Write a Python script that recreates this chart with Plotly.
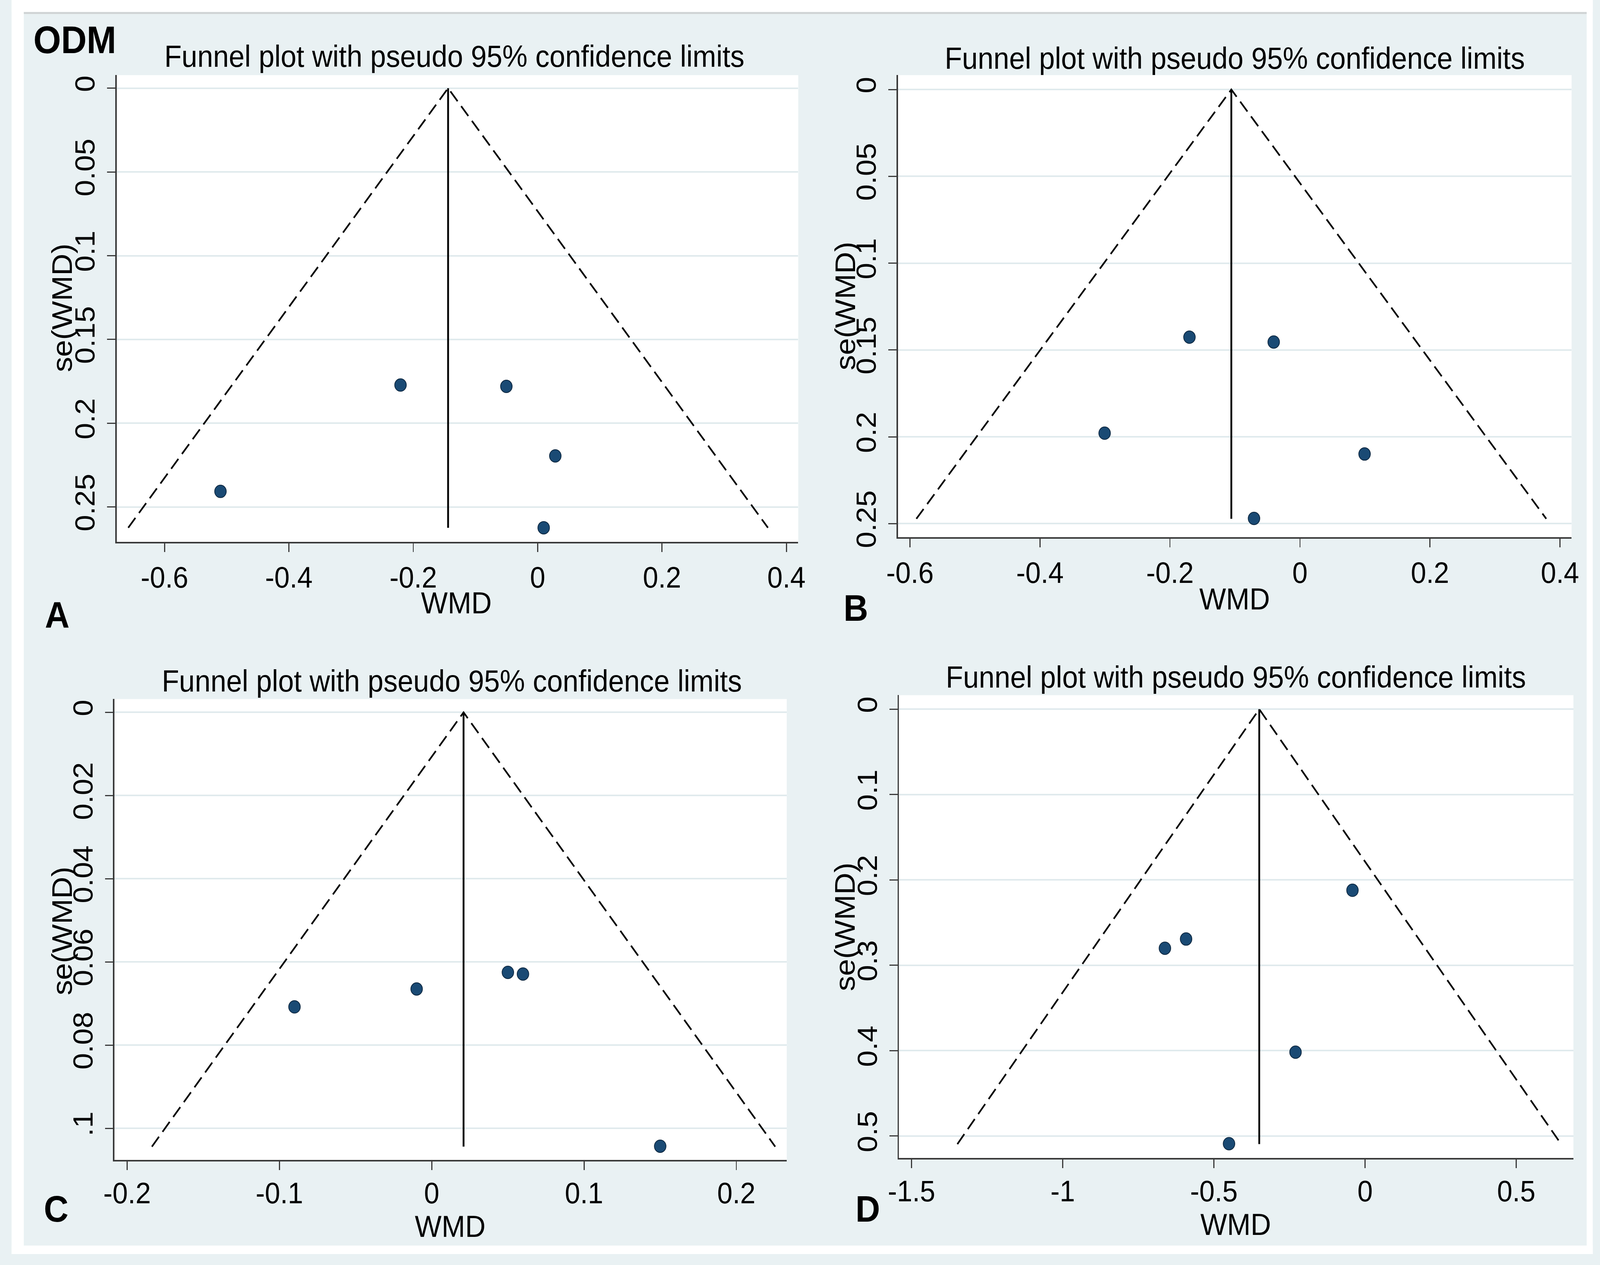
import plotly.graph_objects as go

W, H = 4412, 3238

# ---------------- data ----------------
panels = ["A", "B", "C", "D"]

wmd_A = [-0.2205, -0.0503, 0.0284, -0.510, 0.0097]
se_A = [0.1772, 0.1780, 0.2195, 0.2407, 0.2624]
pooled_A = -0.144
semax_A = 0.2624

wmd_B = [-0.170, -0.0404, -0.3005, 0.0994, -0.0707]
se_B = [0.1426, 0.1454, 0.1979, 0.2099, 0.2470]
pooled_B = -0.1056
semax_B = 0.2472

wmd_C = [-0.0901, -0.0099, 0.0500, 0.0599, 0.150]
se_C = [0.0708, 0.0665, 0.0625, 0.0629, 0.1043]
pooled_C = 0.0209
semax_C = 0.1044

wmd_D = [-0.0417, -0.592, -0.662, -0.230, -0.450]
se_D = [0.2121, 0.2692, 0.2800, 0.4017, 0.5089]
pooled_D = -0.350
semax_D = 0.5094

xticks_A = [-0.6, -0.4, -0.2, 0, 0.2, 0.4]
xticktext_A = ["-0.6", "-0.4", "-0.2", "0", "0.2", "0.4"]
yticks_A = [0, 0.05, 0.1, 0.15, 0.2, 0.25]
yticktext_A = ["0", "0.05", "0.1", "0.15", "0.2", "0.25"]

xticks_B = [-0.6, -0.4, -0.2, 0, 0.2, 0.4]
xticktext_B = ["-0.6", "-0.4", "-0.2", "0", "0.2", "0.4"]
yticks_B = [0, 0.05, 0.1, 0.15, 0.2, 0.25]
yticktext_B = ["0", "0.05", "0.1", "0.15", "0.2", "0.25"]

xticks_C = [-0.2, -0.1, 0, 0.1, 0.2]
xticktext_C = ["-0.2", "-0.1", "0", "0.1", "0.2"]
yticks_C = [0, 0.02, 0.04, 0.06, 0.08, 0.1]
yticktext_C = ["0", "0.02", "0.04", "0.06", "0.08", ".1"]

xticks_D = [-1.5, -1, -0.5, 0, 0.5]
xticktext_D = ["-1.5", "-1", "-0.5", "0", "0.5"]
yticks_D = [0, 0.1, 0.2, 0.3, 0.4, 0.5]
yticktext_D = ["0", "0.1", "0.2", "0.3", "0.4", "0.5"]

title_text = "Funnel plot with pseudo 95% confidence limits"
x_title = "WMD"
y_title = "se(WMD)"
z95 = 1.96

# ---------------- styling / layout ----------------
BG = "#e9f1f3"
GRID = "#e0eaed"
AX = "#3a3a3a"
NAVY = "#1a4a74"
FONT = "Liberation Sans"

# plot areas in pixels (left, right, top, bottom)
boxes = {
    "A": (293, 2195, 194, 1399),
    "B": (2473, 4353, 194, 1387),
    "C": (287, 2163, 1805, 2995),
    "D": (2476, 4358, 1795, 2990),
}
xranges = {"A": [-0.677, 0.419], "B": [-0.6186, 0.4179],
           "C": [-0.2083, 0.2331], "D": [-1.5417, 0.689]}
yranges = {"A": [0.2708, -0.0078], "B": [0.2578, -0.0083],
           "C": [0.1076, -0.0032], "D": [0.5257, -0.0164]}
xlabel_standoff = {"A": 0, "B": 0, "C": -6, "D": -6}

data = {
    "A": (wmd_A, se_A, pooled_A, semax_A, xticks_A, xticktext_A, yticks_A, yticktext_A),
    "B": (wmd_B, se_B, pooled_B, semax_B, xticks_B, xticktext_B, yticks_B, yticktext_B),
    "C": (wmd_C, se_C, pooled_C, semax_C, xticks_C, xticktext_C, yticks_C, yticktext_C),
    "D": (wmd_D, se_D, pooled_D, semax_D, xticks_D, xticktext_D, yticks_D, yticktext_D),
}

fig = go.Figure()
layout = dict(
    width=W, height=H, margin=dict(l=0, r=0, t=0, b=0),
    paper_bgcolor=BG, plot_bgcolor="white", showlegend=False,
    font=dict(family=FONT, color="black", size=76),
)

for i, p in enumerate(panels):
    wmd, se, pooled, semax, xt, xtt, yt, ytt = data[p]
    n = "" if i == 0 else str(i + 1)
    xa, ya = "x" + n, "y" + n
    # funnel limits
    fig.add_trace(go.Scatter(
        x=[pooled - z95 * semax, pooled, pooled + z95 * semax],
        y=[semax, 0, semax], mode="lines", xaxis=xa, yaxis=ya,
        line=dict(color="black", width=4.5, dash="32px,16px"), hoverinfo="skip"))
    # pooled estimate line
    fig.add_trace(go.Scatter(
        x=[pooled, pooled], y=[0, semax], mode="lines", xaxis=xa, yaxis=ya,
        line=dict(color="black", width=5), hoverinfo="skip"))
    # studies
    fig.add_trace(go.Scatter(
        x=wmd, y=se, mode="markers", xaxis=xa, yaxis=ya,
        marker=dict(size=32, color=NAVY, line=dict(color="#0d2740", width=2))))

    L, R, T, B = boxes[p]
    layout["xaxis" + n] = dict(
        domain=[L / W, R / W], range=xranges[p], anchor=ya,
        tickmode="array", tickvals=xt, ticktext=xtt,
        ticks="outside", ticklen=22, tickwidth=3, tickcolor=AX,
        showline=True, linewidth=4, linecolor=AX,
        showgrid=False, zeroline=False, ticklabelstandoff=xlabel_standoff[p],
        tickfont=dict(size=76, family=FONT, color="black"))
    layout["yaxis" + n] = dict(
        domain=[1 - B / H, 1 - T / H], range=yranges[p], anchor=xa,
        tickmode="array", tickvals=yt, ticktext=ytt, tickangle=-90,
        ticks="outside", ticklen=22, tickwidth=3, tickcolor=AX,
        showline=True, linewidth=4, linecolor=AX,
        showgrid=True, gridcolor=GRID, gridwidth=4, zeroline=False,
        ticklabelstandoff=4,
        tickfont=dict(size=76, family=FONT, color="black"))

# white outer border strips
shapes = []
def strip(x0, y0, x1, y1, color="white"):
    shapes.append(dict(type="rect", xref="paper", yref="paper",
                       x0=x0 / W, x1=x1 / W, y0=1 - y1 / H, y1=1 - y0 / H,
                       fillcolor=color, line=dict(width=0), layer="below"))
strip(0, 0, W, 31)
strip(0, 0, 34, H)
strip(4395, 0, W, H)
strip(0, 3216, W, H)
strip(34, 31, 4395, 36, "#cfd3d4")
layout["shapes"] = shapes

ann = []
def txt(s, px, py, size=77, bold=False, angle=0):
    ann.append(dict(text=("<b>%s</b>" % s) if bold else s, xref="paper", yref="paper",
                    x=px / W, y=1 - py / H, xanchor="center", yanchor="middle",
                    showarrow=False, textangle=angle,
                    font=dict(size=size, family=FONT, color="black")))

titles = {"A": (1236, 145), "B": (3413, 150), "C": (1228, 1758), "D": (3416, 1748)}
xtitles = {"A": (1241, 1556), "B": (3413, 1546), "C": (1224, 3166), "D": (3416, 3161)}
ytitles = {"A": (141, 795), "B": (2326, 790), "C": (141, 2404), "D": (2326, 2393)}
letters = {"A": (128, 1588), "B": (2356, 1570), "C": (124, 3121), "D": (2389, 3121)}

for p in panels:
    txt(title_text, *titles[p], size=78)
    txt(x_title, *xtitles[p], size=78)
    txt(y_title, *ytitles[p], size=78, angle=-90)
    txt(p, *letters[p], size=94, bold=True)
txt("ODM", 177, 103, size=98, bold=True)
layout["annotations"] = ann

fig.update_layout(**layout)

# pin the fixed-size figure to the top-left corner and stretch it to the viewport
fit_js = """
var gd = document.getElementById('{plot_id}');
document.documentElement.style.margin = '0';
document.documentElement.style.padding = '0';
document.documentElement.style.overflow = 'hidden';
document.body.style.margin = '0';
document.body.style.padding = '0';
document.body.style.overflow = 'hidden';
function fitFig() {
  var sx = window.innerWidth / %d;
  var sy = window.innerHeight / %d;
  gd.style.position = 'fixed';
  gd.style.left = '0px';
  gd.style.top = '0px';
  gd.style.margin = '0';
  gd.style.transformOrigin = '0 0';
  gd.style.transform = 'scale(' + sx + ',' + sy + ')';
}
fitFig();
window.addEventListener('resize', fitFig);
""" % (W, H)

fig.write_html("out.html", post_script=fit_js, config={"displayModeBar": False})
